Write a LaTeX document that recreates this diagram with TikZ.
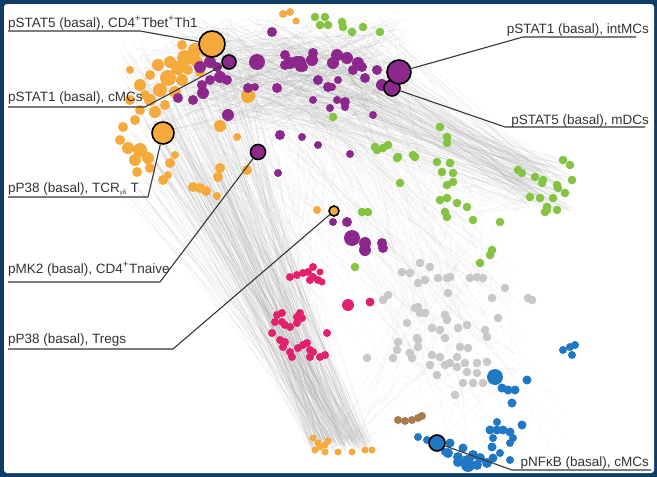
\documentclass[tikz,border=0pt]{standalone}
\usepackage{fontspec}
\setmainfont{Liberation Sans}
\definecolor{frameblue}{RGB}{14,60,100}
\definecolor{cO}{RGB}{246,170,60}
\definecolor{cP}{RGB}{140,40,140}
\definecolor{cG}{RGB}{132,196,66}
\definecolor{cK}{RGB}{226,32,110}
\definecolor{cY}{RGB}{200,200,200}
\definecolor{cU}{RGB}{32,120,196}
\definecolor{cB}{RGB}{168,122,78}
\definecolor{leadc}{RGB}{55,55,55}
\newcommand\randedges[9]{\foreach \i in {1,...,#1}{%
 \pgfmathsetmacro\xa{#2+#3*rnd}\pgfmathsetmacro\ya{#4+#5*rnd}%
 \pgfmathsetmacro\xb{#6+#7*rnd}\pgfmathsetmacro\yb{#8+#9*rnd}%
 \draw[edge] (\xa,\ya) -- (\xb,\yb);}}
\begin{document}
\begin{tikzpicture}[x=1pt,y=-1pt,
  edge/.style={draw=black!40, line width=0.3pt, opacity=0.2},
  lead/.style={draw=leadc, line width=1.1pt, line join=round},
  lab/.style={inner sep=0pt, font=\fontsize{13.5}{15}\selectfont, text=black!80},
  hl/.style={circle, draw=black, line width=1.6pt, inner sep=0pt}]
\fill[frameblue] (0,0) rectangle (657,477);
\fill[white, rounded corners=3pt] (4,4) rectangle (654,473);
\useasboundingbox (0,0) rectangle (657,477);
\pgfmathsetseed{11}
% edges
\randedges{240}{120}{130}{40}{160}{310}{62}{438}{14}
\randedges{150}{180}{220}{15}{100}{518}{55}{160}{52}
\randedges{360}{130}{270}{20}{120}{180}{230}{15}{100}
\begin{scope}[edge/.style={draw=black!40, line width=0.3pt, opacity=0.12}]
\randedges{70}{160}{240}{30}{120}{385}{145}{262}{135}
\randedges{50}{140}{200}{40}{140}{272}{55}{268}{90}
\randedges{90}{200}{200}{20}{100}{360}{140}{145}{120}
\randedges{40}{360}{140}{145}{120}{385}{145}{262}{135}
\randedges{30}{385}{145}{262}{135}{415}{160}{345}{125}
\randedges{25}{272}{55}{268}{90}{310}{62}{438}{14}
\randedges{20}{385}{145}{262}{135}{310}{62}{438}{14}
\randedges{35}{440}{80}{150}{70}{518}{55}{160}{52}
\end{scope}
% orange
\foreach \x/\y/\r in {283/14/4,290/12/4,296/21/3.5,195/50/7,185/58/8,178/68/7,170/62/6,168/78/8,160/90/7,150/100/6,175/92/6,182/80/6,197/62/6,200/72/5,140/110/5,155/112/6,165/105/5,135/120/5,130/70/4,140/85/6,150/75/5,158/65/6,145/95/5,130/100/5,188/70/5,205/52/5,182/45/5,248/96/7,220/126/6,237/137/4,123/127/5,120/140/5,128/148/6,140/150/7,135/160/6,148/158/6,137/172/5,150/168/5,170/163/5,175/155/4,163/180/5,168/175/4,193/187/5,200/188/5,206/191/5,217/196/4,218/177/5,220/168/5,247/170/5,317/210/4,313/438/3.5,318/443/3.5,325/445/3.5,328/441/3.5,315/450/3.5,325/452/3.5,338/452/3.5,352/452/3.5,365/450/3.5,372/450/3.5,320/447/3.5}
  \fill[cO] (\x,\y) circle[radius=\r*1pt];
% purple
\foreach \x/\y/\r in {272/32/5,257/62/8,285/55/5,290/63/6,297/62/6,303/67/5,313/53/5,318/80/5,328/87/5,200/67/6,210/62/6,217/67/5,220/77/6,210/80/5,203/93/6,193/100/5,202/85/5,227/80/5,178/98/5,248/88/5,255/87/4,277/88/5,313/100/4,228/115/6,280/135/5,278/173/4,302/137/4,318/145/4,300/62/6,312/60/6,337/55/6,333/63/6,347/58/6,358/63/6,353/70/5,362/67/5,365/78/5,377/70/5,382/85/6,332/87/4,338/80/4,337/100/4,345/102/5,345/107/4,330/108/4,373/115/4,350/154/4,333/222/4,347/222/5,352/238/8,365/243/6,365/250/6,382/243/5,383/248/5,285/65/5,300/67/5}
  \fill[cP] (\x,\y) circle[radius=\r*1pt];
% green
\foreach \x/\y in {315/17,325/17,320/25,328/25,342/22,343/27,352/32,363/27,380/32,333/117,440/127,447/137,447/143,375/147,383/148,388/145,413/155,398/157,377/150,397/158,415/157,437/162,450/163,442/172,453/173,453/182,447/185,400/183,440/200,447/198,457/203,467/207,445/212,447/217,473/220,500/222,362/212,368/212,355/267,492/250,490/255,480/263,518/170,522/173,535/177,542/183,543/180,563/160,570/165,572/180,557/185,558/188,565/193,553/198,547/207,545/212,530/197,540/198,557/210,547/210}
  \fill[cG] (\x,\y) circle[radius=4.3pt];
% pink
\foreach \x/\y/\r in {290/277/4,297/275/4,303/273/4,308/272/4,313/267/4,313/277/4,318/280/4,310/280/4,322/282/3.5,320/272/3.5,277/315/4,282/313/4,275/322/4,282/322/4,285/325/4,290/327/4,297/323/4,300/313/4,302/318/4,297/317/4,272/333/4,280/340/4,285/342/4,283/347/4,290/352/4,292/357/4,298/348/4,303/345/4,307/343/4,310/350/4,313/352/4,310/357/4,320/357/4,325/355/4,327/333/4,348/305/6,370/302/4.5}
  \fill[cK] (\x,\y) circle[radius=\r*1pt];
% gray
\foreach \x/\y in {420/263,430/267,402/272,410/273,438/278,447/278,450/277,470/278,477/277,483/278,425/280,418/283,505/288,528/298,532/300,492/298,448/293,388/295,383/300,415/308,425/313,445/315,447/320,498/318,407/323,432/328,440/330,458/328,467/325,485/330,487/337,417/338,398/342,445/338,460/347,468/348,397/350,410/353,440/357,367/358,393/358,412/358,457/357,430/365,445/365,450/363,457/367,465/363,477/363,487/362,467/372,437/375,463/383,473/383,483/383,455/395,477/373,420/313,418/307,418/340,418/347,432/355}
  \fill[cY] (\x,\y) circle[radius=4.3pt];
% brown
\foreach \x/\y in {398/420,405/421,412/420,418/418,422/416}
  \fill[cB] (\x,\y) circle[radius=4pt];
% blue
\foreach \x/\y/\r in {563/350/4,570/347/4,575/345/4,572/355/4,495/377/8,527/380/4.5,502/388/4.5,508/390/4.5,515/390/4.5,512/403/4.5,522/425/4.5,497/422/4,490/430/4.5,497/430/4.5,503/430/4.5,510/432/4.5,493/438/4,513/438/4,418/437/4,427/440/4,450/443/4.5,463/448/4.5,448/453/5,458/457/5,467/460/5,473/455/5,480/458/5,468/465/7,477/465/5,492/447/4.5,500/453/4,493/458/4.5,510/443/4,510/460/4,487/463/5,458/462/5,445/452/4}
  \fill[cU] (\x,\y) circle[radius=\r*1pt];
% highlighted nodes
\node[hl, fill=cO, minimum size=26pt] (h1) at (212,44) {};
\node[hl, fill=cP, minimum size=14pt] (h2) at (229,62) {};
\node[hl, fill=cO, minimum size=22pt] (h3) at (163,133) {};
\node[hl, fill=cP, minimum size=15pt] (h4) at (258,152) {};
\node[hl, fill=cO, minimum size=10pt] (h5) at (334,211) {};
\node[hl, fill=cP, minimum size=16pt] (h7) at (392,88) {};
\node[hl, fill=cP, minimum size=24pt] (h6) at (399,72) {};
\node[hl, fill=cU, minimum size=16pt] (h8) at (437,443) {};
% leader coordinates
\coordinate (a1) at (8,31);  \coordinate (b1) at (140,31);
\coordinate (a2) at (8,107); \coordinate (b2) at (145,107);
\coordinate (a3) at (8,197); \coordinate (b3) at (148,197);
\coordinate (a4) at (8,282); \coordinate (b4) at (160,282);
\coordinate (a5) at (8,349); \coordinate (b5) at (173,349);
\coordinate (a6) at (636,37); \coordinate (b6) at (523,37);
\coordinate (a7) at (645,127); \coordinate (b7) at (505,127);
\coordinate (a8) at (651,470); \coordinate (b8) at (512,470);
\draw[lead] (a1) -- (b1) -- (h1);
\draw[lead] (a2) -- (b2) -- (h2);
\draw[lead] (a3) -- (b3) -- (h3);
\draw[lead] (a4) -- (b4) -- (h4);
\draw[lead] (a5) -- (b5) -- (h5);
\draw[lead] (a6) -- (b6) -- (h6);
\draw[lead] (a7) -- (b7) -- (h7);
\draw[lead] (a8) -- (b8) -- (h8);
% labels
\node[lab, anchor=base west] (t1) at (8,27) {pSTAT5 (basal), CD4\textsuperscript{+}Tbet\textsuperscript{+}Th1};
\node[lab, anchor=base west] (t2) at (8,101) {pSTAT1 (basal), cMCs};
\node[lab, anchor=base west] (t3) at (8,192) {pP38 (basal), TCR\textsubscript{\fontsize{6}{7}\selectfont γδ} T};
\node[lab, anchor=base west] (t4) at (8,273) {pMK2 (basal), CD4\textsuperscript{+}Tnaive};
\node[lab, anchor=base west] (t5) at (8,343) {pP38 (basal), Tregs};
\node[lab, anchor=base east] (t6) at (649,33) {pSTAT1 (basal), intMCs};
\node[lab, anchor=base east] (t7) at (649,124) {pSTAT5 (basal), mDCs};
\node[lab, anchor=base east] (t8) at (649,466) {pNFκB (basal), cMCs};
\end{tikzpicture}
\end{document}
